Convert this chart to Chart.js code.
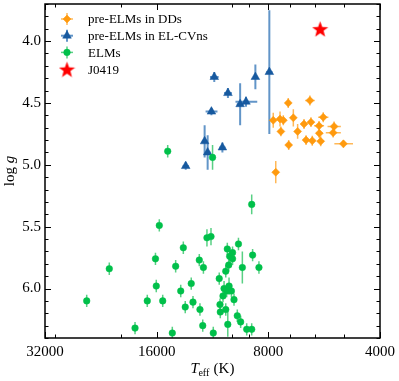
<!DOCTYPE html>
<html>
<head>
<meta charset="utf-8">
<script src="https://cdn.jsdelivr.net/npm/chart.js@4.4.1/dist/chart.umd.min.js"></script>
<style>
    html, body { margin: 0; padding: 0; background: #fff; }
    canvas { display: block; }
</style>
</head>
<body>
<canvas id="kielChart" width="399" height="381"></canvas>
<script>

// Данные

const xTicks = [32000, 16000, 8000, 4000];
const xMinorTicks = [30000, 20000, 10000, 9000, 7000, 6000, 5000];
const yTicks = [4.0, 4.5, 5.0, 5.5, 6.0];

// pre-ELMs in DDs
const ddTeff = [7070, 6180, 7760, 7440, 7290, 6850, 7400, 6670, 6410, 6140, 5690,
    5840, 5320, 5830, 5350, 7050, 6330, 6090, 5780, 5020, 7640];
const ddLogg = [4.50, 4.48, 4.64, 4.63, 4.64, 4.62, 4.73, 4.73, 4.67, 4.655, 4.615,
    4.685, 4.69, 4.745, 4.74, 4.84, 4.80, 4.805, 4.81, 4.83, 5.06];
const ddTeffErr = [100, 180, 100, 100, 100, 100, 100, 100, 120, 120, 180,
    180, 220, 120, 250, 100, 100, 100, 120, 290, 100];
const ddLoggErr = [0.04, 0.04, 0.06, 0.06, 0.04, 0.07, 0.04, 0.06, 0.04, 0.04, 0.04,
    0.04, 0.04, 0.04, 0.04, 0.04, 0.04, 0.04, 0.04, 0.03, 0.09];

// pre-ELMs in EL-CVns
const cvTeff = [11190, 10280, 11390, 9530, 9190, 8670, 7950, 11880, 11660, 10640, 13360];
const cvLogg = [4.29, 4.42, 4.57, 4.51, 4.49, 4.29, 4.25, 4.81, 4.90, 4.86, 5.01];
const cvTeffErr = [300, 250, 420, 200, 620, 100, 150, 200, 200, 200, 250];
const cvLoggErr = [0.04, 0.04, 0.03, 0.17, 0.04, 0.10, 0.50, 0.13, 0.14, 0.04, 0.03];

// ELMs
const elmTeff = [24700, 21470, 18300, 16960, 16120, 16040, 15740, 15410, 14520, 14220,
    13780, 13560, 13400, 12910, 12770, 12280, 12230, 11970, 12020, 11710,
    11420, 11260, 10850, 10800, 10780, 10530, 10600, 10420, 10420, 10320,
    10210, 10290, 10170, 10230, 9990, 9990, 10360, 10060, 9900, 9700,
    9630, 9500, 9400, 9150, 8870, 8870, 8820, 8480, 14940, 11310];
const elmLogg = [6.10, 5.84, 6.32, 6.10, 5.76, 5.98, 5.49, 6.10, 6.36, 5.82,
    6.02, 5.67, 6.15, 5.96, 6.11, 5.77, 6.17, 5.83, 6.30, 5.59,
    5.58, 6.36, 5.92, 6.13, 6.19, 6.00, 6.06, 5.86, 6.17, 5.68,
    5.98, 6.29, 5.74, 5.81, 5.71, 5.76, 6.02, 6.02, 6.09, 6.22,
    5.64, 6.27, 5.83, 6.33, 6.33, 5.32, 5.73, 5.83, 4.89, 4.94];
const elmLoggErr = [0.05, 0.05, 0.05, 0.05, 0.05, 0.05, 0.05, 0.05, 0.05, 0.05,
    0.05, 0.05, 0.05, 0.05, 0.05, 0.05, 0.05, 0.05, 0.05, 0.07,
    0.07, 0.05, 0.05, 0.05, 0.05, 0.06, 0.05, 0.05, 0.05, 0.05,
    0.07, 0.10, 0.05, 0.05, 0.05, 0.05, 0.05, 0.05, 0.05, 0.05,
    0.05, 0.05, 0.13, 0.05, 0.05, 0.08, 0.05, 0.05, 0.05, 0.10];

// J0419
const starTeff = [5800];
const starLogg = [3.90];

function toPoints(teff, logg) {
    return teff.map((t, i) => ({ x: t, y: logg[i] }));
}

// Звезда-маркер

function makeStar(size, color) {
    const c = document.createElement('canvas');
    c.width = size;
    c.height = size;
    const g = c.getContext('2d');
    const cx = size / 2, cy = size / 2 + size * 0.06;
    const R = size / 2, r = R * 0.42;
    g.beginPath();
    for (let k = 0; k < 10; k++) {
        const a = -Math.PI / 2 + k * Math.PI / 5;
        const rr = k % 2 ? r : R;
        g.lineTo(cx + rr * Math.cos(a), cy + rr * Math.sin(a));
    }
    g.closePath();
    g.fillStyle = color;
    g.fill();
    return c;
}

const starImg = makeStar(17, '#ff0000');
const serif = '"Liberation Serif", "DejaVu Serif", serif';

// Error bars

const errorBarPlugin = {
    id: 'errorBars',
    beforeDatasetsDraw(chart) {
        const { ctx, chartArea, scales: { x, y } } = chart;
        ctx.save();
        ctx.beginPath();
        ctx.rect(chartArea.left, chartArea.top, chartArea.right - chartArea.left, chartArea.bottom - chartArea.top);
        ctx.clip();
        [...chart.data.datasets].reverse().forEach((ds) => {
            if (!ds.errY) return;
            ctx.strokeStyle = ds.errColor;
            ctx.lineWidth = ds.errWidth;
            ds.data.forEach((p, j) => {
                const px = x.getPixelForValue(p.x);
                const py = y.getPixelForValue(p.y);
                const ex = ds.errX[j], ey = ds.errY[j];
                ctx.beginPath();
                if (ex) {
                    ctx.moveTo(x.getPixelForValue(p.x - ex), py);
                    ctx.lineTo(x.getPixelForValue(p.x + ex), py);
                }
                if (ey) {
                    ctx.moveTo(px, y.getPixelForValue(p.y - ey));
                    ctx.lineTo(px, y.getPixelForValue(p.y + ey));
                }
                ctx.stroke();
            });
        });
        ctx.restore();
    }
};

// Рамка, тики внутрь, подписи осей, легенда

const framePlugin = {
    id: 'frame',
    afterDraw(chart) {
        const { ctx, chartArea: a, scales: { x, y } } = chart;
        ctx.save();
        ctx.strokeStyle = '#000';
        ctx.lineWidth = 1;
        const tick = (x1, y1, x2, y2) => {
            ctx.beginPath();
            ctx.moveTo(x1, y1);
            ctx.lineTo(x2, y2);
            ctx.stroke();
        };
        xTicks.forEach(v => {
            const px = Math.round(x.getPixelForValue(v)) + 0.5;
            tick(px, a.bottom, px, a.bottom - 6);
            tick(px, a.top, px, a.top + 6);
        });
        xMinorTicks.forEach(v => {
            const px = Math.round(x.getPixelForValue(v)) + 0.5;
            tick(px, a.bottom, px, a.bottom - 3.5);
            tick(px, a.top, px, a.top + 3.5);
        });
        for (let k = 37; k <= 64; k++) {
            const v = k / 10;
            const major = yTicks.some(t => Math.abs(t - v) < 1e-6);
            const len = major ? 6 : 3.5;
            const py = Math.round(y.getPixelForValue(v)) + 0.5;
            tick(a.left, py, a.left + len, py);
            tick(a.right, py, a.right - len, py);
        }
        ctx.lineWidth = 1.5;
        ctx.strokeRect(a.left, a.top, a.right - a.left, a.bottom - a.top);

        // Подписи осей
        ctx.fillStyle = '#000';
        ctx.textBaseline = 'alphabetic';
        ctx.textAlign = 'left';
        ctx.font = 'italic 15px ' + serif;
        const tW = ctx.measureText('T').width;
        ctx.font = '10px ' + serif;
        const effW = ctx.measureText('eff').width;
        ctx.font = '15px ' + serif;
        const kW = ctx.measureText(' (K)').width;
        const tx = (a.left + a.right) / 2 - (tW + effW + kW) / 2;
        const ty = 373;
        ctx.font = 'italic 15px ' + serif;
        ctx.fillText('T', tx, ty);
        ctx.font = '10px ' + serif;
        ctx.fillText('eff', tx + tW - 0.5, ty + 3);
        ctx.font = '15px ' + serif;
        ctx.fillText(' (K)', tx + tW + effW, ty);

        ctx.save();
        ctx.translate(14, (a.top + a.bottom) / 2);
        ctx.rotate(-Math.PI / 2);
        ctx.font = '15px ' + serif;
        const logW = ctx.measureText('log ').width;
        ctx.font = 'italic 15px ' + serif;
        const gW = ctx.measureText('g').width;
        ctx.font = '15px ' + serif;
        ctx.fillText('log ', -(logW + gW) / 2, 0);
        ctx.font = 'italic 15px ' + serif;
        ctx.fillText('g', -(logW + gW) / 2 + logW, 0);
        ctx.restore();

        // Легенда
        const lx = 67, ly = 19, step = 16.7;
        chart.data.datasets.forEach((ds, i) => {
            const cy = ly + i * step;
            if (ds.errY) {
                ctx.strokeStyle = ds.errColor;
                ctx.lineWidth = ds.errWidth;
                tick(lx - 6, cy, lx + 6, cy);
                tick(lx, cy - 6, lx, cy + 6);
            }
            ctx.fillStyle = ds.backgroundColor;
            ctx.strokeStyle = ds.borderColor;
            ctx.lineWidth = ds.borderWidth;
            Chart.helpers.drawPoint(ctx, {
                pointStyle: ds.pointStyle,
                radius: ds.pointRadius,
                borderWidth: ds.borderWidth,
                rotation: 0
            }, lx, cy);
            ctx.fillStyle = '#000';
            ctx.font = '13px ' + serif;
            ctx.textAlign = 'left';
            ctx.textBaseline = 'middle';
            ctx.fillText(ds.label, 88, cy + 1);
        });
        ctx.restore();
    }
};

const kielChart = document.getElementById('kielChart');

const kielData = {
    datasets: [
        {
            label: 'pre-ELMs in DDs',
            data: toPoints(ddTeff, ddLogg),
            errX: ddTeffErr,
            errY: ddLoggErr,
            errColor: 'rgba(255, 176, 70, 0.9)',
            errWidth: 1.5,
            pointStyle: 'rectRot',
            pointRadius: 4,
            borderWidth: 0.5,
            backgroundColor: '#ff9a0e',
            borderColor: '#ff9a0e',
            order: 4
        },
        {
            label: 'pre-ELMs in EL-CVns',
            data: toPoints(cvTeff, cvLogg),
            errX: cvTeffErr,
            errY: cvLoggErr,
            errColor: 'rgba(70, 130, 190, 0.85)',
            errWidth: 2,
            pointStyle: 'triangle',
            pointRadius: 5,
            borderWidth: 0.5,
            backgroundColor: '#17599f',
            borderColor: '#17599f',
            order: 3
        },
        {
            label: 'ELMs',
            data: toPoints(elmTeff, elmLogg),
            errX: elmTeff.map(t => t * 0.012),
            errY: elmLoggErr,
            errColor: 'rgba(60, 200, 110, 0.85)',
            errWidth: 1.5,
            pointStyle: 'circle',
            pointRadius: 3.3,
            borderWidth: 0.5,
            backgroundColor: '#00c04a',
            borderColor: '#00c04a',
            order: 2
        },
        {
            label: 'J0419',
            data: toPoints(starTeff, starLogg),
            pointStyle: starImg,
            pointRadius: 8,
            borderWidth: 0,
            backgroundColor: '#ff0000',
            borderColor: '#ff0000',
            order: 1
        }
    ]
};

const kielChartConfig = {
    type: 'scatter',
    data: kielData,
    options: {
        responsive: false,
        animation: false,
        layout: {
            autoPadding: false,
            padding: { left: 0, right: 19, top: 4, bottom: 0 }
        },
        plugins: {
            legend: { display: false },
            tooltip: { enabled: false },
        },
        scales: {
            x: {
                type: 'logarithmic',
                min: 4000,
                max: 32000,
                reverse: true,
                afterBuildTicks(scale) {
                    scale.ticks = xTicks.map(v => ({ value: v, major: true }));
                },
                afterFit(scale) {
                    scale.height = 43;
                    scale.paddingLeft = 0;
                    scale.paddingRight = 0;
                },
                grid: { display: false, drawTicks: false },
                border: { display: false },
                ticks: {
                    padding: 5,
                    autoSkip: false,
                    maxRotation: 0,
                    color: '#000',
                    font: { family: serif, size: 15 },
                    callback: (v) => String(v),
                },
            },
            y: {
                type: 'linear',
                min: 3.7,
                max: 6.4,
                reverse: true,
                afterBuildTicks(scale) {
                    scale.ticks = yTicks.map(v => ({ value: v }));
                },
                afterFit(scale) {
                    scale.width = 45;
                    scale.paddingTop = 0;
                    scale.paddingBottom = 0;
                },
                grid: { display: false, drawTicks: false },
                border: { display: false },
                ticks: {
                    padding: 4,
                    color: '#000',
                    font: { family: serif, size: 15 },
                    callback: (v) => Number(v).toFixed(1),
                },
            },
        },
    },
    plugins: [errorBarPlugin, framePlugin],
};

new Chart(kielChart, kielChartConfig);
</script>
</body>
</html>
